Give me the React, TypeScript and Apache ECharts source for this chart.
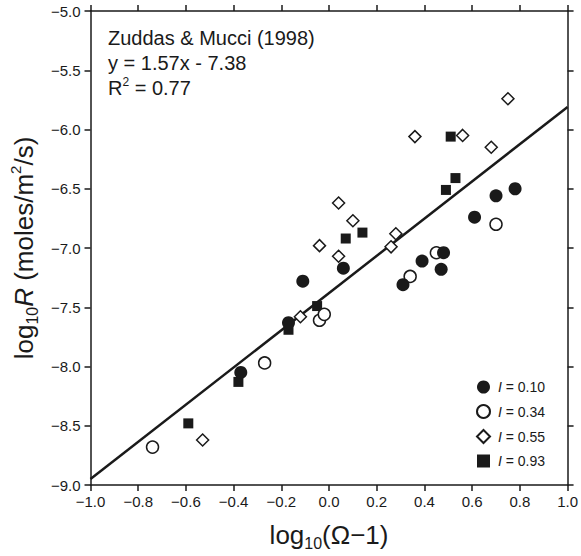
import React, { useEffect, useRef } from "react";
import * as echarts from "echarts";

// I = 0.10 (filled circles)
const i010X = [-0.37, -0.17, -0.11, 0.06, 0.31, 0.39, 0.47, 0.48, 0.61, 0.70, 0.78];
const i010Y = [-8.05, -7.63, -7.28, -7.17, -7.31, -7.11, -7.18, -7.04, -6.74, -6.56, -6.50];
// I = 0.34 (open circles)
const i034X = [-0.74, -0.27, -0.04, -0.02, 0.34, 0.45, 0.70];
const i034Y = [-8.68, -7.97, -7.61, -7.56, -7.24, -7.04, -6.80];
// I = 0.55 (open diamonds)
const i055X = [-0.53, -0.12, -0.04, 0.04, 0.04, 0.10, 0.26, 0.28, 0.36, 0.56, 0.68, 0.75];
const i055Y = [-8.62, -7.58, -6.98, -7.07, -6.62, -6.77, -6.99, -6.88, -6.06, -6.05, -6.15, -5.74];
// I = 0.93 (filled squares)
const i093X = [-0.59, -0.38, -0.17, -0.05, 0.07, 0.14, 0.49, 0.51, 0.53];
const i093Y = [-8.48, -8.13, -7.69, -7.49, -6.92, -6.87, -6.51, -6.06, -6.41];

// Regression: y = 1.57x - 7.38
const fitSlope = 1.57;
const fitIntercept = -7.38;
const fitXs = [-1.0, 1.0];

const seriesNames = ["0.10", "0.34", "0.55", "0.93"];
const annotationLines = ["Zuddas & Mucci (1998)", "y = 1.57x - 7.38", "R² = 0.77"];

const FONT = "'Liberation Sans', Arial, Helvetica, sans-serif";
const INK = "#1a1a1a";

const zip = (xs: number[], ys: number[]) => xs.map((x, i) => [x, ys[i]]);
const fmt = (v: number) => {
  if (Math.abs(v) < 1e-9) return "0.0";
  return v.toFixed(1).replace("-", "\u2212");
};

export default function App() {
  const ref = useRef<HTMLDivElement>(null);
  useEffect(() => {
    if (!ref.current) return;
    const chart = echarts.init(ref.current, null, { renderer: "svg" });
    const axisLine = { show: true, onZero: false, lineStyle: { color: INK, width: 1.5 } };
    const axisTick = { show: true, inside: false, length: 6, lineStyle: { color: INK, width: 1.5 } };
    const titleRich = {
      b: { fontSize: 26, fontFamily: FONT, color: INK, lineHeight: 32 },
      it: { fontSize: 26, fontFamily: FONT, color: INK, fontStyle: "italic", lineHeight: 32 },
      sub: { fontSize: 16, fontFamily: FONT, color: INK, verticalAlign: "bottom" },
      sup: { fontSize: 15, fontFamily: FONT, color: INK, verticalAlign: "top" },
    };
    const option: any = {
      animation: false,
      backgroundColor: "#ffffff",
      grid: { left: 89, right: 11, top: 11, bottom: 66, containLabel: false },
      xAxis: [
        {
          type: "value",
          position: "bottom",
          min: -1,
          max: 1,
          interval: 0.2,
          axisLine,
          axisTick,
          splitLine: { show: false },
          axisLabel: { fontSize: 15, fontFamily: FONT, color: INK, margin: 9, formatter: fmt },
          name: "{b|log}{sub|10}{b|(Ω\u22121)}",
          nameLocation: "middle",
          nameGap: 34,
          nameTextStyle: { rich: titleRich },
        },
        {
          type: "value",
          position: "top",
          min: -1,
          max: 1,
          interval: 0.2,
          axisLine,
          axisTick,
          splitLine: { show: false },
          axisLabel: { show: false },
        },
      ],
      yAxis: [
        {
          type: "value",
          position: "left",
          min: -9,
          max: -5,
          interval: 0.5,
          axisLine,
          axisTick,
          splitLine: { show: false },
          axisLabel: { fontSize: 15, fontFamily: FONT, color: INK, margin: 10, formatter: fmt },
          name: "{b|log}{sub|10}{it|R}{b| (moles/m}{sup|2}{b|/s)}",
          nameLocation: "middle",
          nameRotate: 90,
          nameGap: 48,
          nameTextStyle: { rich: titleRich },
        },
        {
          type: "value",
          position: "right",
          min: -9,
          max: -5,
          interval: 0.5,
          axisLine,
          axisTick,
          splitLine: { show: false },
          axisLabel: { show: false },
        },
      ],
      legend: {
        data: seriesNames,
        orient: "vertical",
        left: 471,
        top: 375,
        itemWidth: 13,
        itemHeight: 13,
        itemGap: 10,
        formatter: (n: string) => `{i|I}{t| = ${n}}`,
        textStyle: {
          fontSize: 14,
          fontFamily: FONT,
          color: INK,
          rich: {
            i: { fontSize: 14, fontFamily: FONT, color: INK, fontStyle: "italic", padding: [0, 0, 0, 3] },
            t: { fontSize: 14, fontFamily: FONT, color: INK },
          },
        },
      },
      graphic: annotationLines.map((line, k) => ({
        type: "text",
        x: 108,
        y: 38 + k * 25,
        style: {
          text: k === 2 ? "{a|R}{s|2}{a| = 0.77}" : line,
          fontSize: 20,
          fontFamily: FONT,
          fill: INK,
          verticalAlign: "middle",
          rich: {
            a: { fontSize: 20, fontFamily: FONT, fill: INK, lineHeight: 24 },
            s: { fontSize: 12, fontFamily: FONT, fill: INK, verticalAlign: "top" },
          },
        },
      })),
      series: [
        {
          name: "fit",
          type: "line",
          data: fitXs.map((x) => [x, fitSlope * x + fitIntercept]),
          symbol: "none",
          lineStyle: { color: INK, width: 2.5 },
          z: 1,
          silent: true,
        },
        {
          name: "0.93",
          type: "scatter",
          data: zip(i093X, i093Y),
          symbol: "rect",
          symbolSize: 10,
          itemStyle: { color: INK, borderWidth: 0, opacity: 1 },
          z: 2,
        },
        {
          name: "0.55",
          type: "scatter",
          data: zip(i055X, i055Y),
          symbol: "diamond",
          symbolSize: 12,
          itemStyle: { color: "#ffffff", borderColor: INK, borderWidth: 1.5, opacity: 1 },
          z: 3,
        },
        {
          name: "0.34",
          type: "scatter",
          data: zip(i034X, i034Y),
          symbol: "circle",
          symbolSize: 12,
          itemStyle: { color: "#ffffff", borderColor: INK, borderWidth: 1.5, opacity: 1 },
          z: 4,
        },
        {
          name: "0.10",
          type: "scatter",
          data: zip(i010X, i010Y),
          symbol: "circle",
          symbolSize: 13,
          itemStyle: { color: INK, borderWidth: 0, opacity: 1 },
          z: 5,
        },
      ],
    };
    chart.setOption(option);
    return () => chart.dispose();
  }, []);
  return (
    <div
      ref={ref}
      style={{ position: "absolute", left: 0, top: 0, width: 581, height: 556, background: "#fff" }}
    />
  );
}
